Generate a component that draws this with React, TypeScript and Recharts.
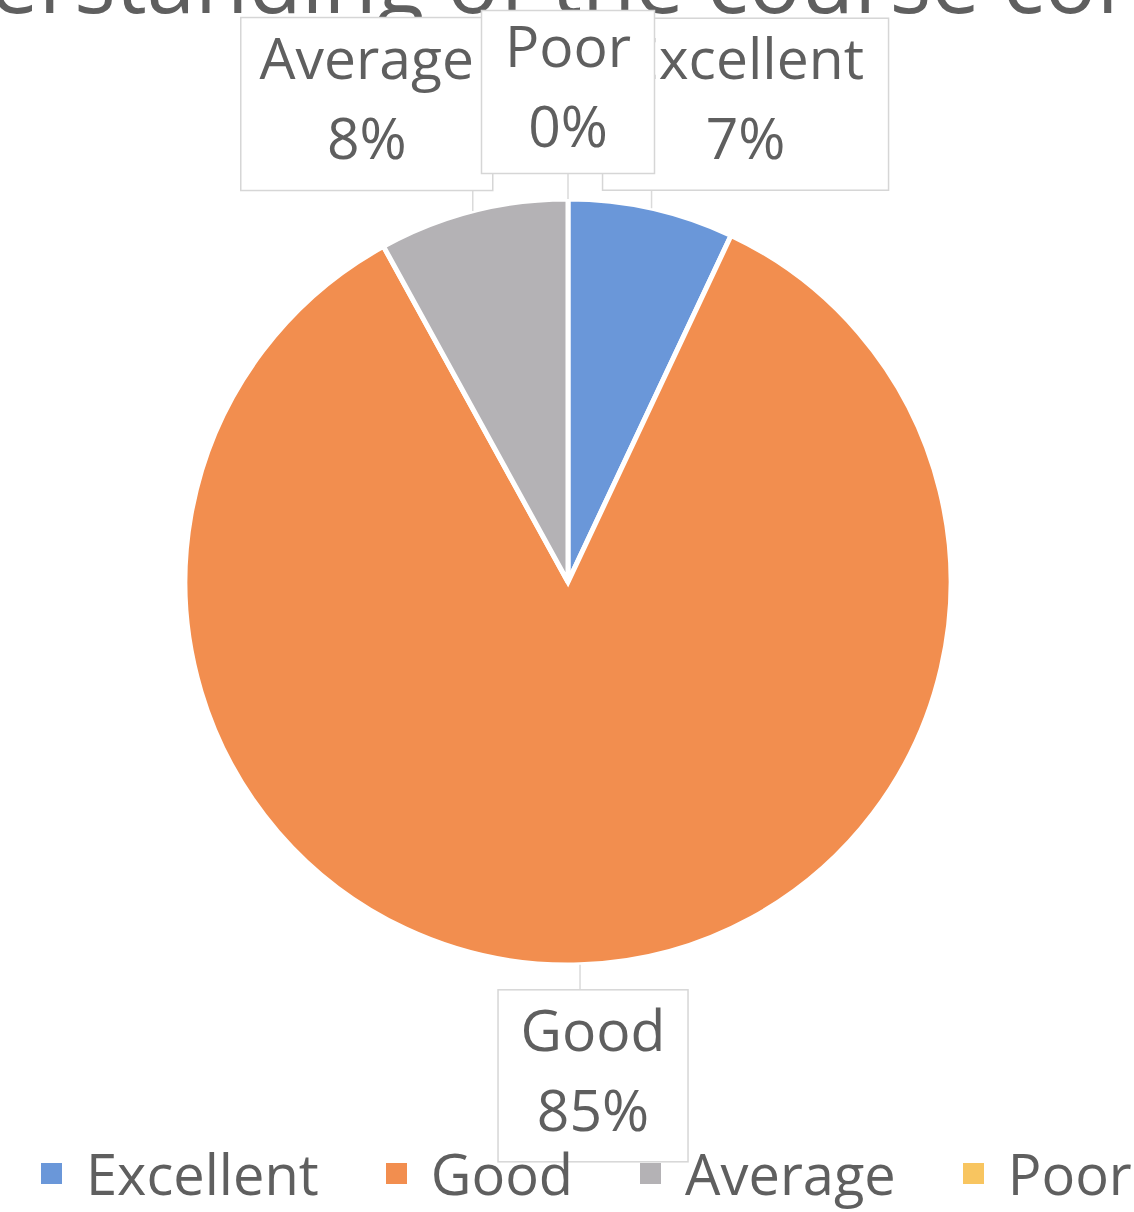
import React from 'react';
import { PieChart, Pie, Cell, Legend } from 'recharts';

const categories = ['Excellent', 'Good', 'Average', 'Poor'];
const values = [7, 85, 8, 0];
const percentLabels = ['7%', '85%', '8%', '0%'];
const colors = ['#6A97D9', '#F28E4F', '#B4B2B5', '#F8C560'];
const titleText = 'Understanding of the course content';

const data = categories.map((name, i) => ({ name, value: values[i], pct: percentLabels[i] }));

const W = 1134;
const H = 1212;
const FONT = '"Open Sans", "DejaVu Sans", sans-serif';
const TEXT = '#5f5f5f';
const RADIAN = Math.PI / 180;

// callout layout (offset of box centre from the slice's outer mid point, box size)
const labelLayout: Record<string, { dx: number; dy: number; w: number; h: number }> = {
  Excellent: { dx: 94, dy: -104, w: 286, h: 172 },
  Good: { dx: 13, dy: 111, w: 190, h: 172 },
  Average: { dx: -106, dy: -107, w: 252, h: 173 },
  Poor: { dx: 0, dy: -107, w: 173, h: 163 },
};

const renderLabel = (props: any) => {
  const { cx, cy, midAngle, outerRadius, index } = props;
  const d = data[index];
  const lay = labelLayout[d.name];
  const ax = cx + outerRadius * Math.cos(-midAngle * RADIAN);
  const ay = cy + outerRadius * Math.sin(-midAngle * RADIAN);
  const bx = ax + lay.dx;
  const by = ay + lay.dy;
  const top = by - lay.h / 2;
  const bottom = by + lay.h / 2;
  const edgeY = lay.dy < 0 ? bottom : top;
  const edgeX = Math.max(bx - lay.w / 2 + 10, Math.min(bx + lay.w / 2 - 10, ax));
  return (
    <g key={`lbl-${index}`}>
      <line x1={edgeX} y1={edgeY} x2={ax} y2={ay} stroke="#dadada" strokeWidth={1.5} />
      <rect x={bx - lay.w / 2} y={top} width={lay.w} height={lay.h} fill="#fff" stroke="#d6d6d6" strokeWidth={1.5} />
      <text x={bx} y={by - 25} textAnchor="middle" fontFamily={FONT} fontSize={57} fill={TEXT}>
        {d.name}
      </text>
      <text x={bx} y={by + 55} textAnchor="middle" fontFamily={FONT} fontSize={57} fill={TEXT}>
        {d.pct}
      </text>
    </g>
  );
};

const renderLegend = (props: any) => {
  const payload = [...(props.payload || [])].sort(
    (a: any, b: any) => categories.indexOf(a.value) - categories.indexOf(b.value)
  );
  return (
    <div
      style={{
        display: 'flex',
        alignItems: 'center',
        paddingLeft: 41,
        fontFamily: FONT,
        fontSize: 56,
        color: TEXT,
        lineHeight: 'normal',
        whiteSpace: 'nowrap',
      }}
    >
      {payload.map((p: any, i: number) => (
        <span
          key={p.value}
          style={{ display: 'flex', alignItems: 'center', marginRight: i === payload.length - 1 ? 0 : 67 }}
        >
          <span style={{ display: 'inline-block', width: 21, height: 21, background: p.color, marginRight: 24 }} />
          <span>{p.value}</span>
        </span>
      ))}
    </div>
  );
};

export default function App() {
  return (
    <div style={{ position: 'absolute', left: 0, top: 0, width: W, height: H, background: '#fff', overflow: 'hidden' }}>
      <PieChart width={W} height={H} margin={{ top: 0, right: 0, bottom: 0, left: 0 }}>
        <text x={567} y={13} textAnchor="middle" fontFamily={FONT} fontSize={87} fill={TEXT}>
          {titleText}
        </text>
        <Pie
          data={data}
          dataKey="value"
          nameKey="name"
          cx={568}
          cy={582}
          outerRadius={383}
          startAngle={90}
          endAngle={-270}
          stroke="#ffffff"
          strokeWidth={5}
          isAnimationActive={false}
          label={renderLabel}
          labelLine={false}
        >
          {data.map((d, i) => (
            <Cell key={d.name} fill={colors[i]} stroke="#ffffff" strokeWidth={5} />
          ))}
        </Pie>
        <Legend
          content={renderLegend}
          wrapperStyle={{ position: 'absolute', left: 0, top: 1135, width: W, height: 78 }}
        />
      </PieChart>
    </div>
  );
}
